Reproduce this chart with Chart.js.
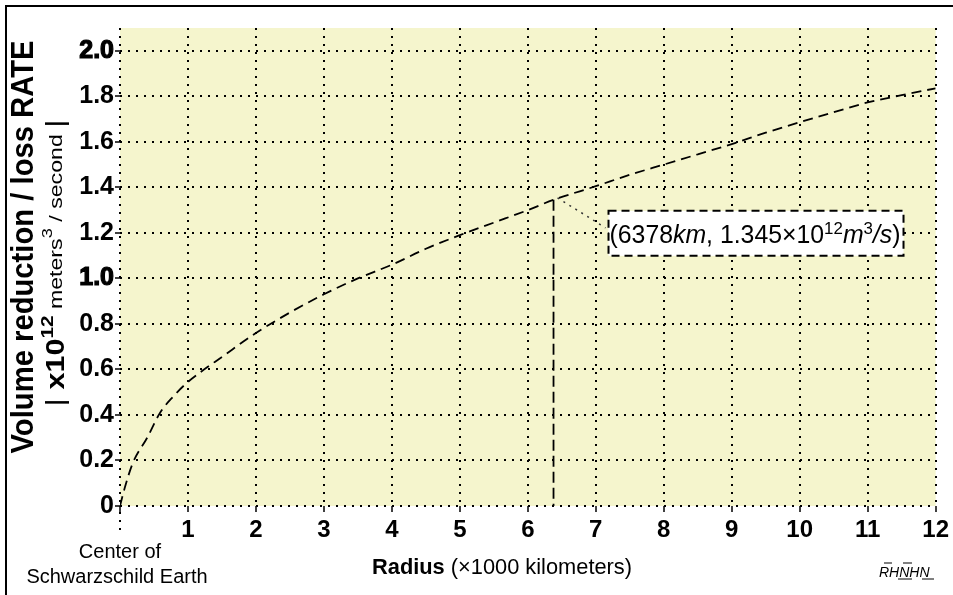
<!DOCTYPE html>
<html>
<head>
<meta charset="utf-8">
<script src="https://cdn.jsdelivr.net/npm/chart.js@4.4.1/dist/chart.umd.min.js"></script>
<style>
  html, body { margin: 0; padding: 0; background: #fff; }
  canvas { display: block; }
</style>
</head>
<body>
<canvas id="chart" width="953" height="595"></canvas>
<script>
// radius in thousands of km, rate in 10^12 m^3/s
const radius = [0, 0.07, 0.19, 0.4, 0.59, 0.78, 0.98, 1.17, 1.5, 2, 2.5, 3, 3.5, 4, 4.5, 5, 5.5, 6, 6.378, 7, 7.5, 8, 8.5, 9, 9.5, 10, 10.5, 11, 11.5, 12];
const rate = [0, 0.08, 0.19, 0.30, 0.41, 0.48, 0.54, 0.585, 0.655, 0.76, 0.85, 0.93, 1.0, 1.06, 1.13, 1.19, 1.245, 1.30, 1.345, 1.405, 1.455, 1.50, 1.545, 1.59, 1.64, 1.686, 1.73, 1.773, 1.805, 1.835];

// earth surface marker
const surfaceRadius = [6.378, 6.378];
const surfaceRate = [1.345, 0];

const xTickValues = [0, 1, 2, 3, 4, 5, 6, 7, 8, 9, 10, 11, 12];
const xTickLabels = ["", "1", "2", "3", "4", "5", "6", "7", "8", "9", "10", "11", "12"];
const yTickValues = [0, 0.2, 0.4, 0.6, 0.8, 1.0, 1.2, 1.4, 1.6, 1.8, 2.0];
const yTickLabels = ["0", "0.2", "0.4", "0.6", "0.8", "1.0", "1.2", "1.4", "1.6", "1.8", "2.0"];

const FONT = "'Liberation Sans', Arial, sans-serif";

// draws a row of text pieces with different fonts, squeezed to fit a length
function drawRuns(ctx, runs, x, y, fitWidth, align) {
  let total = 0;
  runs.forEach(r => {
    ctx.font = r.font;
    r.w = ctx.measureText(r.text).width;
    total += r.w;
  });
  const k = fitWidth ? fitWidth / total : 1;
  ctx.save();
  ctx.translate(x, y);
  ctx.scale(k, 1);
  let cx = align === "center" ? -total / 2 : 0;
  runs.forEach(r => {
    ctx.font = r.font;
    ctx.fillText(r.text, cx, r.dy || 0);
    cx += r.w;
  });
  ctx.restore();
}

const decor = {
  id: "decor",
  beforeDraw(chart) {
    const { ctx, chartArea: a } = chart;
    ctx.save();
    ctx.fillStyle = "#f5f5cd";
    ctx.fillRect(a.left, a.top, a.right - a.left, a.bottom - a.top);
    ctx.restore();
  },
  afterDraw(chart) {
    const { ctx, chartArea: a } = chart;
    const xs = chart.scales.x, ys = chart.scales.y;
    ctx.save();
    ctx.fillStyle = "#000";
    ctx.strokeStyle = "#000";
    ctx.textBaseline = "alphabetic";
    ctx.textAlign = "left";

    // frame
    ctx.lineWidth = 2;
    ctx.beginPath();
    ctx.moveTo(6, 595);
    ctx.lineTo(6, 6);
    ctx.lineTo(953, 6);
    ctx.stroke();

    // x = 0 line runs down past the axis
    ctx.lineWidth = 2;
    ctx.setLineDash([2, 6]);
    ctx.beginPath();
    ctx.moveTo(a.left, a.bottom + 6);
    ctx.lineTo(a.left, a.bottom + 30);
    ctx.stroke();
    ctx.setLineDash([]);

    // y title, two rotated lines
    ctx.save();
    ctx.translate(33, 247);
    ctx.rotate(-Math.PI / 2);
    ctx.font = "bold 32px " + FONT;
    ctx.textAlign = "center";
    ctx.fillText("Volume reduction / loss RATE", 0, 0, 413);
    ctx.restore();

    ctx.save();
    ctx.translate(64, 263);
    ctx.rotate(-Math.PI / 2);
    drawRuns(ctx, [
      { text: "| ", font: "26px " + FONT },
      { text: "x10", font: "bold 25px " + FONT },
      { text: "12", font: "bold 17px " + FONT, dy: -11 },
      { text: " meters", font: "19px " + FONT, dy: -2 },
      { text: "3", font: "15px " + FONT, dy: -12 },
      { text: " / second ", font: "19px " + FONT, dy: -2 },
      { text: "|", font: "26px " + FONT }
    ], 0, 0, 287, "center");
    ctx.restore();

    // bottom left note
    ctx.textAlign = "center";
    ctx.font = "20px " + FONT;
    ctx.fillText("Center of", 120, 558);
    ctx.fillText("Schwarzschild Earth", 117, 583, 194);
    ctx.textAlign = "left";

    // x title
    drawRuns(ctx, [
      { text: "Radius", font: "bold 22px " + FONT },
      { text: " (\u00d71000 kilometers)", font: "22px " + FONT }
    ], 372, 574, 260);

    // signature
    ctx.font = "italic 14px " + FONT;
    ctx.fillText("RHNHN", 879, 577, 56);
    ctx.lineWidth = 1;
    ctx.beginPath();
    ctx.moveTo(884, 563); ctx.lineTo(892, 563);
    ctx.moveTo(903, 563); ctx.lineTo(912, 563);
    ctx.moveTo(898, 579); ctx.lineTo(912, 579);
    ctx.moveTo(922, 579); ctx.lineTo(934, 579);
    ctx.stroke();

    // callout for the surface point
    const px = xs.getPixelForValue(surfaceRadius[0]);
    const py = ys.getPixelForValue(surfaceRate[0]);
    ctx.strokeStyle = "#333";
    ctx.lineWidth = 1.5;
    ctx.setLineDash([2, 5]);
    ctx.beginPath();
    ctx.moveTo(px + 4, py - 2);
    ctx.lineTo(px + 52, py + 28);
    ctx.stroke();

    const bx = px + 55, by = py + 11, bw = 295, bh = 45;
    ctx.fillStyle = "#fff";
    ctx.fillRect(bx, by, bw, bh);
    ctx.strokeStyle = "#000";
    ctx.lineWidth = 2;
    ctx.setLineDash([8, 5]);
    ctx.strokeRect(bx, by, bw, bh);
    ctx.setLineDash([]);

    ctx.fillStyle = "#000";
    drawRuns(ctx, [
      { text: "(6378", font: "25px " + FONT },
      { text: "km", font: "italic 25px " + FONT },
      { text: ", 1.345\u00d710", font: "25px " + FONT },
      { text: "12", font: "17px " + FONT, dy: -9 },
      { text: "m", font: "italic 25px " + FONT },
      { text: "3", font: "17px " + FONT, dy: -9 },
      { text: "/s", font: "italic 25px " + FONT },
      { text: ")", font: "25px " + FONT }
    ], bx + 1, by + 32, 291);

    ctx.restore();
  }
};

new Chart(document.getElementById("chart"), {
  type: "line",
  data: {
    datasets: [
      {
        data: radius.map((r, i) => ({ x: r, y: rate[i] })),
        borderColor: "#000",
        borderWidth: 1.8,
        borderDash: [10, 6],
        pointRadius: 0,
        fill: false,
        cubicInterpolationMode: "monotone"
      },
      {
        data: surfaceRadius.map((r, i) => ({ x: r, y: surfaceRate[i] })),
        borderColor: "#000",
        borderWidth: 1.8,
        borderDash: [11, 5],
        pointRadius: 0,
        fill: false
      }
    ]
  },
  options: {
    responsive: false,
    animation: false,
    devicePixelRatio: 1,
    layout: { padding: { left: 0, top: 28, right: 15, bottom: 0 } },
    plugins: { legend: { display: false }, tooltip: { enabled: false } },
    scales: {
      x: {
        type: "linear",
        min: 0,
        max: 12,
        afterBuildTicks: s => { s.ticks = xTickValues.map(v => ({ value: v })); },
        afterFit: s => { s.height = 89; },
        grid: { color: "#000", lineWidth: 2, tickLength: 6, tickColor: "#000", tickWidth: 1.5, tickBorderDash: [] },
        border: { display: false, dash: [2, 6] },
        ticks: {
          color: "#000",
          font: { family: FONT, size: 24, weight: "bold" },
          padding: 4,
          maxRotation: 0,
          autoSkip: false,
          callback: (v, i) => xTickLabels[i]
        }
      },
      y: {
        type: "linear",
        min: 0,
        max: 2.1,
        afterBuildTicks: s => { s.ticks = yTickValues.map(v => ({ value: v })); },
        afterFit: s => { s.width = 120; },
        grid: { color: "#000", lineWidth: 2, tickLength: 5, tickColor: "#000", tickWidth: 1.5, tickBorderDash: [] },
        border: { display: false, dash: [2, 6] },
        ticks: {
          color: "#000",
          font: { family: FONT, size: 25, weight: "bold" },
          textStrokeColor: "#000",
          textStrokeWidth: c => (c.tick && (c.tick.value === 1 || c.tick.value === 2)) ? 1.2 : 0,
          padding: 1,
          autoSkip: false,
          callback: (v, i) => yTickLabels[i]
        }
      }
    }
  },
  plugins: [decor]
});
</script>
</body>
</html>
